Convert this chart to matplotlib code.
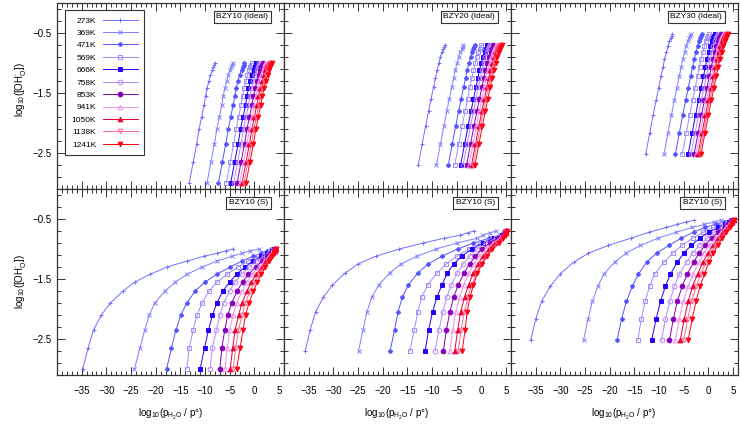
import matplotlib
matplotlib.use("Agg")
import numpy as np
import matplotlib.pyplot as plt
from matplotlib.ticker import MultipleLocator, FixedLocator

plt.rcParams['font.family'] = ['Liberation Sans', 'DejaVu Sans']
plt.rcParams['mathtext.fontset'] = 'custom'
plt.rcParams['mathtext.rm'] = 'Liberation Sans'
plt.rcParams['mathtext.it'] = 'Liberation Sans'

# temperatures, colours and markers of the 11 series
temps = ['273K', '369K', '471K', '569K', '666K', '758K', '853K', '941K', '1050K', '1138K', '1241K']
colors = ['#7070ff', '#8080ff', '#5555ff', '#9f8cff', '#2200ff', '#b888ff',
          '#8800bb', '#f090e8', '#e80030', '#ff6699', '#ff0010']
markers = ['+', 'x', (8, 2, 0), 's', 's', 'o', 'o', '^', '^', 'v', 'v']
filled = [True, True, True, False, True, False, True, False, True, False, True]

# y levels (log10 [OH]) at which the curves were read, one list per Y content
y10 = [-1.0, -1.03, -1.07, -1.12, -1.2, -1.3, -1.42, -1.55, -1.7, -1.9, -2.1, -2.35, -2.65, -3.0]
y20 = [-0.7, -0.73, -0.77, -0.82, -0.9, -1.0, -1.12, -1.25, -1.4, -1.6, -1.8, -2.05, -2.35, -2.7]
y30 = [-0.52, -0.55, -0.59, -0.64, -0.72, -0.82, -0.94, -1.07, -1.22, -1.42, -1.62, -1.87, -2.17, -2.52]

# log10(pH2O/p) for each temperature, ideal model
ideal10 = [
    [-8.0, -8.1, -8.3, -8.5, -8.9, -9.2, -9.6, -9.9, -10.2, -10.7, -11.2, -11.7, -12.4, -13.2],
    [-4.4, -4.5, -4.7, -4.9, -5.3, -5.6, -6.0, -6.3, -6.6, -7.1, -7.6, -8.1, -8.8, -9.6],
    [-2.1, -2.2, -2.4, -2.6, -3.0, -3.3, -3.7, -4.0, -4.3, -4.8, -5.3, -5.8, -6.5, -7.3],
    [-0.5, -0.6, -0.8, -1.0, -1.4, -1.7, -2.1, -2.4, -2.7, -3.2, -3.7, -4.2, -4.9, -5.7],
    [0.4, 0.3, 0.1, -0.1, -0.5, -0.8, -1.2, -1.5, -1.8, -2.3, -2.8, -3.3, -4.0, -4.8],
    [1.0, 0.9, 0.7, 0.5, 0.2, -0.2, -0.6, -0.9, -1.2, -1.7, -2.2, -2.7, -3.4, -4.2],
    [1.7, 1.6, 1.4, 1.2, 0.9, 0.5, 0.2, -0.2, -0.5, -1.0, -1.5, -2.0, -2.7, -3.5],
    [2.2, 2.1, 1.9, 1.7, 1.4, 1.0, 0.7, 0.3, 0.0, -0.5, -1.0, -1.5, -2.2, -3.0],
    [2.7, 2.6, 2.4, 2.2, 1.9, 1.5, 1.2, 0.8, 0.5, 0.0, -0.5, -1.0, -1.7, -2.5],
    [3.1, 3.0, 2.8, 2.6, 2.3, 1.9, 1.6, 1.2, 0.9, 0.4, -0.1, -0.6, -1.3, -2.1],
    [3.5, 3.4, 3.2, 3.0, 2.7, 2.3, 2.0, 1.6, 1.3, 0.8, 0.3, -0.2, -0.9, -1.7],
]
ideal20 = [
    [-7.4, -7.5, -7.7, -8.0, -8.3, -8.6, -9.0, -9.3, -9.7, -10.2, -10.7, -11.3, -12.0, -12.8],
    [-3.7, -3.8, -4.0, -4.3, -4.6, -4.9, -5.3, -5.6, -6.0, -6.5, -7.0, -7.6, -8.3, -9.1],
    [-1.3, -1.4, -1.6, -1.9, -2.2, -2.5, -2.9, -3.2, -3.6, -4.1, -4.6, -5.2, -5.9, -6.7],
    [0.0, -0.1, -0.3, -0.6, -0.9, -1.2, -1.6, -1.9, -2.3, -2.8, -3.3, -3.9, -4.6, -5.4],
    [1.2, 1.1, 0.9, 0.7, 0.3, 0.0, -0.4, -0.7, -1.1, -1.6, -2.1, -2.7, -3.4, -4.2],
    [1.7, 1.6, 1.4, 1.2, 0.8, 0.5, 0.1, -0.2, -0.6, -1.1, -1.6, -2.2, -2.9, -3.7],
    [2.4, 2.3, 2.1, 1.9, 1.5, 1.2, 0.8, 0.5, 0.1, -0.4, -0.9, -1.5, -2.2, -3.0],
    [2.9, 2.8, 2.6, 2.4, 2.0, 1.7, 1.3, 1.0, 0.6, 0.1, -0.4, -1.0, -1.7, -2.5],
    [3.4, 3.3, 3.1, 2.9, 2.5, 2.2, 1.8, 1.5, 1.1, 0.6, 0.1, -0.5, -1.2, -2.0],
    [3.7, 3.6, 3.4, 3.2, 2.8, 2.5, 2.1, 1.8, 1.4, 0.9, 0.4, -0.2, -0.9, -1.7],
    [4.1, 4.0, 3.8, 3.6, 3.2, 2.9, 2.5, 2.2, 1.8, 1.3, 0.8, 0.2, -0.5, -1.3],
]
ideal30 = [
    [-7.3, -7.4, -7.6, -7.9, -8.2, -8.5, -8.9, -9.2, -9.6, -10.1, -10.6, -11.2, -11.9, -12.7],
    [-3.6, -3.7, -3.9, -4.2, -4.5, -4.8, -5.2, -5.5, -5.9, -6.4, -6.9, -7.5, -8.2, -9.0],
    [-1.3, -1.4, -1.6, -1.9, -2.2, -2.5, -2.9, -3.2, -3.6, -4.1, -4.6, -5.2, -5.9, -6.7],
    [0.1, 0.0, -0.2, -0.5, -0.8, -1.1, -1.5, -1.8, -2.2, -2.7, -3.2, -3.8, -4.5, -5.3],
    [1.3, 1.2, 1.0, 0.8, 0.4, 0.1, -0.3, -0.6, -1.0, -1.5, -2.0, -2.6, -3.3, -4.1],
    [1.9, 1.8, 1.6, 1.4, 1.0, 0.7, 0.3, 0.0, -0.4, -0.9, -1.4, -2.0, -2.7, -3.5],
    [2.5, 2.4, 2.2, 2.0, 1.6, 1.3, 0.9, 0.6, 0.2, -0.3, -0.8, -1.4, -2.1, -2.9],
    [2.9, 2.8, 2.6, 2.4, 2.0, 1.7, 1.3, 1.0, 0.6, 0.1, -0.4, -1.0, -1.7, -2.5],
    [3.3, 3.2, 3.0, 2.8, 2.4, 2.1, 1.7, 1.4, 1.0, 0.5, 0.0, -0.6, -1.3, -2.1],
    [3.6, 3.5, 3.3, 3.1, 2.7, 2.4, 2.0, 1.7, 1.3, 0.8, 0.3, -0.3, -1.0, -1.8],
    [3.9, 3.8, 3.6, 3.4, 3.0, 2.7, 2.3, 2.0, 1.6, 1.1, 0.6, 0.0, -0.7, -1.5],
]

# same, "S" model
s10 = [
    [-4.3, -5.8, -7.5, -10.2, -13.6, -17.7, -21.1, -24.2, -26.6, -29.2, -31.0, -32.6, -33.7, -34.8],
    [1.0, -0.8, -2.5, -4.5, -7.5, -10.6, -13.6, -16.0, -18.1, -20.2, -21.3, -22.2, -23.2, -24.3],
    [3.4, 2.6, 1.4, -0.3, -2.5, -4.9, -7.6, -10.0, -12.0, -13.7, -14.9, -15.9, -16.8, -17.8],
    [3.8, 3.2, 2.2, 0.8, -1.2, -3.3, -5.5, -7.6, -9.2, -10.6, -11.6, -12.4, -13.2, -13.7],
    [4.0, 3.6, 2.6, 1.4, -0.3, -1.9, -3.6, -5.0, -6.4, -7.6, -8.5, -9.3, -10.1, -11.0],
    [4.1, 3.8, 3.0, 2.0, 0.4, -1.0, -2.6, -3.9, -5.0, -6.2, -7.0, -7.7, -8.5, -9.0],
    [4.2, 3.9, 3.3, 2.6, 1.6, 0.3, -1.2, -2.4, -3.5, -4.6, -5.4, -6.0, -6.6, -7.0],
    [4.2, 4.0, 3.5, 2.9, 2.0, 0.9, -0.4, -1.5, -2.5, -3.6, -4.3, -5.0, -5.5, -6.0],
    [4.3, 4.1, 3.7, 3.2, 2.4, 1.5, 0.4, -0.6, -1.5, -2.5, -3.2, -3.9, -4.4, -4.9],
    [4.3, 4.15, 3.8, 3.4, 2.7, 1.9, 0.9, 0.0, -0.9, -1.8, -2.5, -3.2, -3.8, -4.3],
    [4.4, 4.2, 3.9, 3.5, 2.9, 2.2, 1.4, 0.6, -0.2, -1.1, -1.8, -2.3, -2.9, -3.6],
]
s20 = [
    [-1.5, -2.8, -4.3, -7.5, -11.8, -16.6, -21.4, -25.0, -27.6, -30.2, -32.0, -33.6, -34.7, -35.7],
    [3.0, 1.8, 0.4, -0.8, -5.0, -9.1, -13.1, -16.3, -18.6, -20.8, -22.2, -23.2, -24.0, -24.9],
    [4.6, 4.4, 3.8, 1.6, -1.6, -4.8, -8.0, -10.8, -12.9, -14.8, -16.0, -16.9, -17.6, -18.5],
    [4.8, 4.6, 4.0, 2.4, -0.3, -2.6, -5.0, -7.1, -9.0, -10.9, -12.1, -12.9, -13.6, -14.5],
    [4.9, 4.7, 4.2, 2.6, 0.3, -1.9, -4.0, -5.6, -6.9, -8.0, -9.0, -9.9, -10.7, -11.4],
    [5.0, 4.8, 4.3, 3.0, 0.9, -0.9, -2.4, -3.7, -4.9, -6.1, -7.0, -7.8, -8.6, -9.4],
    [5.0, 4.8, 4.4, 3.4, 1.7, 0.1, -1.2, -2.4, -3.5, -4.7, -5.6, -6.4, -7.1, -7.7],
    [5.0, 4.85, 4.5, 3.7, 2.3, 0.9, -0.4, -1.5, -2.5, -3.6, -4.4, -5.2, -5.8, -6.4],
    [5.0, 4.9, 4.6, 4.0, 2.8, 1.5, 0.3, -0.7, -1.6, -2.6, -3.4, -4.2, -4.8, -5.4],
    [5.05, 4.95, 4.7, 4.2, 3.2, 2.0, 0.9, -0.1, -1.0, -1.9, -2.7, -3.5, -4.1, -4.7],
    [5.1, 5.0, 4.8, 4.4, 3.5, 2.2, 1.1, 0.1, -0.8, -1.6, -2.3, -2.9, -3.3, -3.9],
]
s30 = [
    [-3.0, -4.5, -6.3, -8.5, -12.0, -15.7, -20.3, -24.3, -27.3, -30.1, -32.0, -33.8, -35.0, -36.0],
    [2.5, 1.2, -0.8, -3.3, -6.5, -10.2, -13.8, -16.7, -19.0, -21.2, -22.4, -23.5, -24.4, -25.3],
    [4.3, 3.1, 1.5, -0.7, -3.0, -5.5, -8.0, -10.5, -12.5, -14.2, -15.4, -16.6, -17.6, -18.5],
    [4.6, 3.8, 2.6, 1.0, -1.0, -3.2, -5.4, -7.2, -9.0, -10.9, -11.9, -12.8, -13.6, -14.3],
    [4.8, 4.2, 3.3, 2.0, 0.1, -1.7, -3.5, -5.0, -6.3, -7.7, -8.7, -9.7, -10.6, -11.5],
    [4.9, 4.5, 3.7, 2.8, 1.2, -0.2, -1.9, -3.2, -4.4, -5.9, -6.9, -7.8, -8.7, -9.5],
    [5.0, 4.6, 4.0, 3.3, 2.0, 0.7, -0.7, -1.9, -3.0, -4.3, -5.3, -6.3, -7.1, -7.9],
    [5.0, 4.7, 4.2, 3.6, 2.6, 1.4, 0.2, -0.9, -1.9, -3.1, -4.1, -5.1, -5.9, -6.7],
    [5.1, 4.8, 4.4, 3.9, 3.0, 2.0, 0.9, -0.1, -1.1, -2.2, -3.2, -4.1, -4.9, -5.7],
    [5.1, 4.9, 4.5, 4.1, 3.3, 2.4, 1.4, 0.5, -0.5, -1.5, -2.5, -3.4, -4.2, -5.0],
    [5.2, 5.0, 4.7, 4.3, 3.6, 2.8, 1.9, 1.0, 0.1, -0.8, -1.7, -2.5, -3.3, -4.1],
]

panels = [
    (ideal10, y10, 'BZY10 (Ideal)'), (ideal20, y20, 'BZY20 (Ideal)'), (ideal30, y30, 'BZY30 (Ideal)'),
    (s10, y10, 'BZY10 (S)'), (s20, y20, 'BZY10 (S)'), (s30, y30, 'BZY10 (S)'),
]

W, H = 740, 425
fig = plt.figure(figsize=(W / 100, H / 100), dpi=100)

left, colw = 57, 227
tops = [3, 189]
rowh = 186

axes = []
for i, (xs_all, ys, title) in enumerate(panels):
    r, c = divmod(i, 3)
    x0 = left + c * colw
    y0 = tops[r]
    ax = fig.add_axes([x0 / W, 1 - (y0 + rowh) / H, colw / W, rowh / H])
    axes.append(ax)
    for xs, t, col, m, f in zip(xs_all, temps, colors, markers, filled):
        ax.plot(xs, ys, color=col, lw=0.7, marker=m, ms=3.4,
                mfc=col if f else 'none', mec=col, mew=0.7, label=t)
    ax.set_xlim(-40, 6)
    ax.set_ylim(-3.1, 0)
    ax.xaxis.set_major_locator(FixedLocator([-35, -30, -25, -20, -15, -10, -5, 0, 5]))
    ax.xaxis.set_minor_locator(MultipleLocator(1))
    ax.yaxis.set_major_locator(FixedLocator([-2.5, -1.5, -0.5]))
    ax.yaxis.set_minor_locator(FixedLocator(np.arange(-2.9, 0, 0.2)))
    ax.tick_params(which='both', direction='in', top=True, right=True, labelsize=7,
                   color='#333333', width=0.7)
    ax.tick_params(which='major', length=6)
    ax.tick_params(which='minor', length=3)
    ax.tick_params(axis='x', pad=8)
    ax.tick_params(axis='y', pad=4)
    for sp in ax.spines.values():
        sp.set_linewidth(0.9)
        sp.set_color('#333333')
    if r == 0:
        ax.tick_params(labelbottom=False)
    if c != 0:
        ax.tick_params(labelleft=False)
    ax.text(0.93, 0.945, title, transform=ax.transAxes, ha='right', va='top', fontsize=6,
            bbox=dict(boxstyle='square,pad=0.3', fc='white', ec='#333333', lw=0.8), zorder=5)

leg = axes[0].legend(loc='upper left', bbox_to_anchor=(0.035, 0.962), borderaxespad=0,
                     fontsize=6, markerfirst=False, frameon=True, fancybox=False,
                     edgecolor='#333333', framealpha=1, handlelength=4.2,
                     handletextpad=0.8, labelspacing=0.55, borderpad=0.8, numpoints=1)
leg.get_frame().set_linewidth(0.8)
for col in leg._legend_handle_box.get_children():
    col.align = 'right'

ylab = r'log$_{10}$([OH$_\mathregular{O}^{\bullet}$])'
xlab = r'log$_{10}$(p$_\mathregular{H_2O}$ / p°)'
for yc in [90, 282]:
    fig.text(20 / W, 1 - yc / H, ylab, rotation=90, ha='center', va='center', fontsize=7)
for xc in [171, 397, 624]:
    fig.text(xc / W, 1 - 414 / H, xlab, ha='center', va='center', fontsize=7)

fig.savefig('out.png', dpi=100)
